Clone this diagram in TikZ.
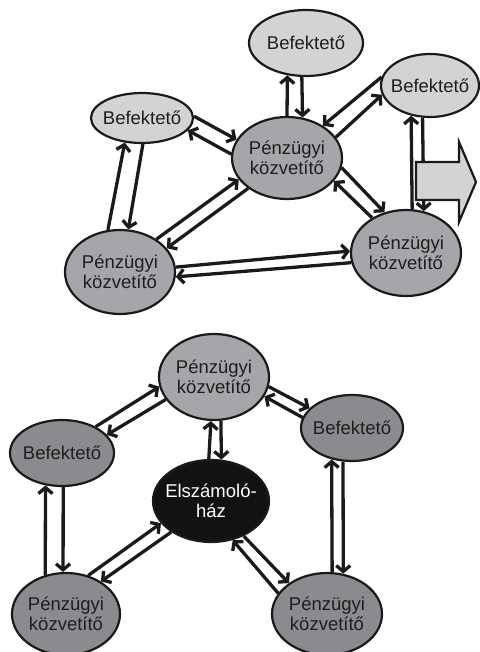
\documentclass[tikz,border=0pt]{standalone}
\usepackage{fontspec}
\setmainfont{Liberation Sans}
\usetikzlibrary{arrows.meta,shapes.geometric}
\definecolor{lg}{HTML}{D2D3D5}
\definecolor{mg}{HTML}{A5A6A9}
\definecolor{dg}{HTML}{8A8B8E}
\definecolor{blk}{HTML}{121212}
\definecolor{linec}{HTML}{1A1A1A}
\definecolor{txt}{HTML}{1E1E1E}
\begin{document}
\begin{tikzpicture}[x=1pt,y=-1pt,
  ell/.style={ellipse,draw=linec,line width=2.2pt,inner xsep=-15pt,inner ysep=-4pt,
    align=center,font=\fontsize{18.5}{20.5}\selectfont,text=txt},
  arr/.style={line width=3.3pt,draw=linec,-{Straight Barb[length=6pt,width=14pt]}},
  bigarrow/.style={line width=2.2pt,draw=linec,fill=lg}
]
\useasboundingbox (0,0) rectangle (479,652);
% ---------- top diagram ----------
\node[ell,fill=lg,minimum width=114pt,minimum height=66pt] (tb) at (306,43) {Befektető};
\node[ell,fill=lg,minimum width=98pt,minimum height=63pt] (rb) at (430,85.5) {Befektető};
\node[ell,fill=lg,minimum width=102pt,minimum height=50pt] (lb) at (142,118) {Befektető};
\node[ell,fill=mg,minimum width=110pt,minimum height=82pt] (c) at (287,158) {Pénzügyi\\közvetítő};
\node[ell,fill=mg,minimum width=110pt,minimum height=84pt] (bl) at (120,272) {Pénzügyi\\közvetítő};
\node[ell,fill=mg,minimum width=110pt,minimum height=86pt] (br) at (406,253) {Pénzügyi\\közvetítő};
\draw[arr] (c.90) -- (tb.240);
\draw[arr] (tb.263) -- (c.69);
\draw[arr] (lb.2) -- (c.160);
\draw[arr] (c.176) -- (lb.-15);
\draw[arr] (bl.106) -- (lb.235);
\draw[arr] (lb.272) -- (bl.79);
\draw[arr] (bl.42) -- (c.204);
\draw[arr] (c.218) -- (bl.27);
\draw[arr] (bl.5) -- (br.178);
\draw[arr] (br.190) -- (bl.-5);
\draw[arr] (c.-10) -- (br.118);
\draw[arr] (br.134) -- (c.-26);
\draw[arr] (c.23) -- (rb.191);
\draw[arr] (rb.170) -- (c.42);
\draw[arr] (rb.257) -- (br.67);
\draw[bigarrow] (416,162) -- (459,162) -- (459,142) -- (476,182) -- (459,222) -- (459,200) -- (416,200) -- cycle;
\draw[arr] (br.82) -- (rb.238);
% ---------- bottom diagram ----------
\node[ell,fill=mg,minimum width=110pt,minimum height=86pt] (tp) at (214,377) {Pénzügyi\\közvetítő};
\node[ell,fill=dg,minimum width=102pt,minimum height=66pt] (rbb) at (352,428) {Befektető};
\node[ell,fill=dg,minimum width=104pt,minimum height=66pt] (lbb) at (62,453) {Befektető};
\node[ell,fill=blk,text=white,minimum width=116pt,minimum height=82pt] (e) at (211,501) {Elszámoló-\\ház};
\node[ell,fill=dg,minimum width=108pt,minimum height=82pt] (blb) at (66,614) {Pénzügyi\\közvetítő};
\node[ell,fill=dg,minimum width=110pt,minimum height=82pt] (brb) at (327,614) {Pénzügyi\\közvetítő};
\draw[arr] (e.93) -- (tp.266);
\draw[arr] (tp.-81) -- (e.76);
\draw[arr] (lbb.38) -- (tp.190);
\draw[arr] (tp.205) -- (lbb.22);
\draw[arr] (tp.-10) -- (rbb.155);
\draw[arr] (rbb.168) -- (tp.-21);
\draw[arr] (blb.118) -- (lbb.243);
\draw[arr] (lbb.272) -- (blb.94);
\draw[arr] (blb.60) -- (e.204);
\draw[arr] (e.218) -- (blb.43);
\draw[arr] (e.-47) -- (brb.141);
\draw[arr] (brb.157) -- (e.-61);
\draw[arr] (brb.83) -- (rbb.237);
\draw[arr] (rbb.255) -- (brb.68);
\end{tikzpicture}
\end{document}
